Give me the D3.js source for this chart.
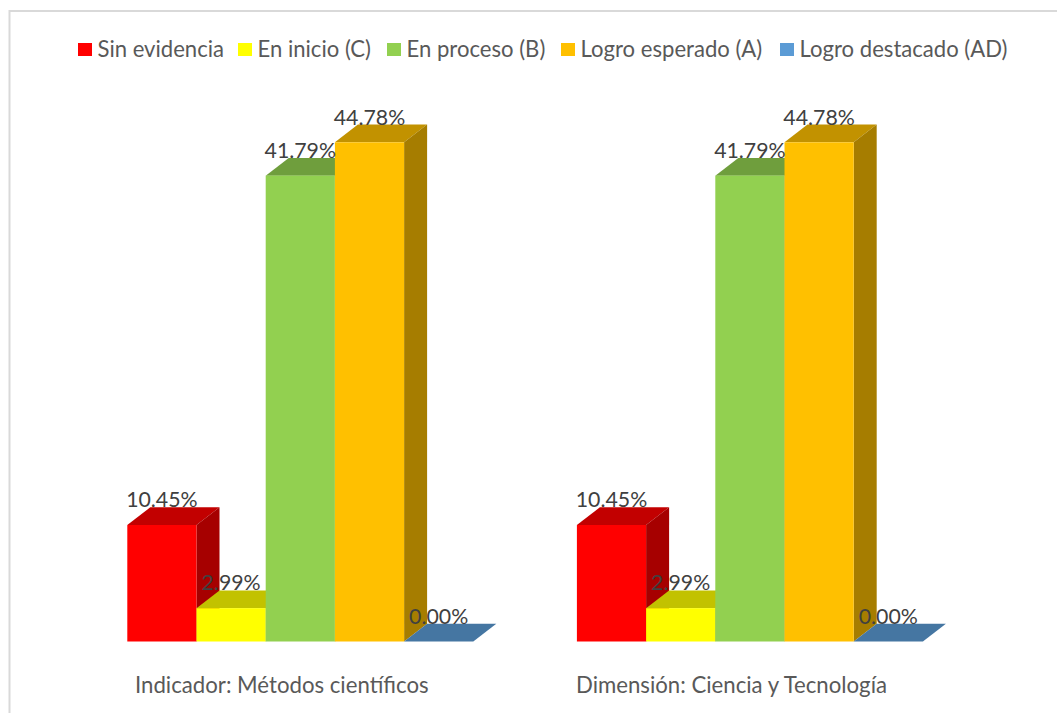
<!DOCTYPE html>
<html>
<head>
<meta charset="utf-8">
<script src="https://cdnjs.cloudflare.com/ajax/libs/d3/7.8.5/d3.min.js"></script>
<style>
    html, body { margin: 0; padding: 0; background: #fff; overflow: hidden; }
    svg { display: block; }
    text { font-family: Lato, "Open Sans", sans-serif; }
</style>
</head>
<body>
<div class="barChart"></div>
<script>
var width = 1057;
var height = 713;

var categories = ['Sin evidencia', 'En inicio (C)', 'En proceso (B)', 'Logro esperado (A)', 'Logro destacado (AD)'];
var groupLabels = ['Indicador: Métodos científicos', 'Dimensión: Ciencia y Tecnología'];
var valuesIndicador = [10.45, 2.99, 41.79, 44.78, 0.00];
var valuesDimension = [10.45, 2.99, 41.79, 44.78, 0.00];
var colors = ['#FF0000', '#FFFF00', '#92D050', '#FFC000', '#5B9BD5'];

var groups = [
    { label: groupLabels[0], values: valuesIndicador, left: 127.3, labelX: 135 },
    { label: groupLabels[1], values: valuesDimension, left: 576.9, labelX: 576 }
];

// legend swatches and text don't sit on a regular grid, so read from the picture
var legendX = [78, 238, 387, 561, 780];

var barWidth = 69.2;
var depthX = 23;
var depthY = 17.7;

var x = d3.scaleBand().domain(categories).range([0, barWidth * categories.length]);
var y = d3.scaleLinear().domain([0, 44.78]).range([641.5, 142.3]);
var fmt = d3.format('.2f');

function shade(c, k) {
    var r = d3.rgb(c);
    return d3.rgb(r.r * k, r.g * k, r.b * k).formatHex();
}

var svg = d3.select('.barChart')
    .append('svg')
    .attr('width', width)
    .attr('height', height);

svg.append('rect')
    .attr('x', 0)
    .attr('y', 0)
    .attr('width', width)
    .attr('height', height)
    .attr('fill', 'white');

// chart frame, runs off the right and bottom of the picture
svg.append('rect')
    .attr('x', 9.5)
    .attr('y', 11)
    .attr('width', width + 20)
    .attr('height', height + 20)
    .attr('fill', 'none')
    .attr('stroke', '#D9D9D9')
    .attr('stroke-width', 2);

var legend = svg.selectAll('.legend')
    .data(categories)
    .enter().append('g')
    .attr('class', 'legend')
    .attr('transform', function(d, i) {
        return 'translate(' + legendX[i] + ', 0)';
    });

legend.append('rect')
    .attr('x', 0)
    .attr('y', 43)
    .attr('width', 14)
    .attr('height', 13)
    .attr('fill', function(d, i) { return colors[i]; });

legend.append('text')
    .attr('x', 19.5)
    .attr('y', 57)
    .attr('font-size', 22.1)
    .attr('fill', '#595959')
    .text(function(d) { return d; });

groups.forEach(function(group) {
    var g = svg.append('g')
        .attr('transform', 'translate(' + group.left + ', 0)');

    var rows = categories.map(function(c, i) {
        return { name: c, value: group.values[i], color: colors[i] };
    });

    var bars = g.selectAll('.bar')
        .data(rows)
        .enter().append('g')
        .attr('class', 'bar');

    // top face
    bars.append('path')
        .attr('fill', function(d) { return shade(d.color, 0.76); })
        .attr('d', function(d) {
            var l = x(d.name), r = l + x.bandwidth(), t = y(d.value);
            return 'M' + l + ',' + t + 'L' + (l + depthX) + ',' + (t - depthY) +
                'L' + (r + depthX) + ',' + (t - depthY) + 'L' + r + ',' + t + 'Z';
        });

    // side face
    bars.append('path')
        .attr('fill', function(d) { return shade(d.color, 0.65); })
        .attr('d', function(d) {
            var r = x(d.name) + x.bandwidth(), t = y(d.value), b = y(0);
            return 'M' + r + ',' + t + 'L' + (r + depthX) + ',' + (t - depthY) +
                'L' + (r + depthX) + ',' + (b - depthY) + 'L' + r + ',' + b + 'Z';
        });

    // front face
    bars.append('rect')
        .attr('x', function(d) { return x(d.name); })
        .attr('y', function(d) { return y(d.value); })
        .attr('width', x.bandwidth())
        .attr('height', function(d) { return y(0) - y(d.value); })
        .attr('fill', function(d) { return d.color; });

    // labels go on after all the bars so they stay on top
    g.selectAll('.value')
        .data(rows)
        .enter().append('text')
        .attr('class', 'value')
        .attr('x', function(d) { return x(d.name) + x.bandwidth() / 2; })
        .attr('y', function(d) { return y(d.value) - depthY; })
        .attr('text-anchor', 'middle')
        .attr('font-size', 21.3)
        .attr('fill', '#404040')
        .text(function(d) { return fmt(d.value) + '%'; });

    svg.append('text')
        .attr('x', group.labelX)
        .attr('y', 693)
        .attr('font-size', 22.2)
        .attr('fill', '#595959')
        .text(group.label);
});
</script>
</body>
</html>
